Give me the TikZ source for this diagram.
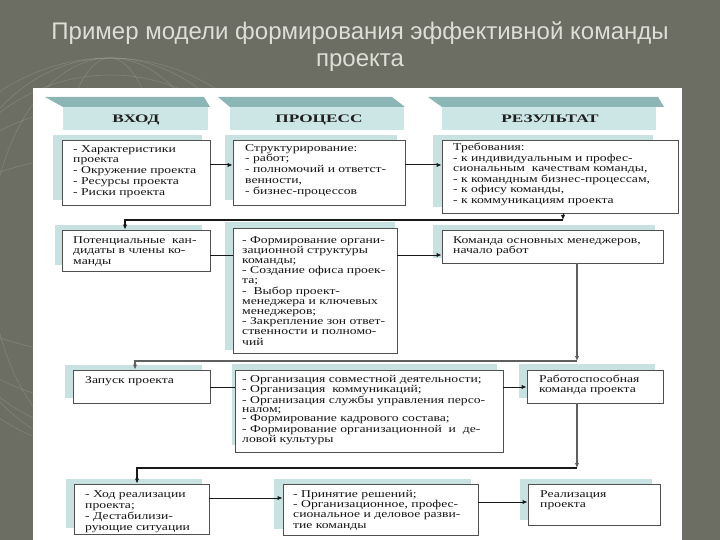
\documentclass[tikz,border=0pt]{standalone}
\usepackage{fontspec}
\setmainfont{Liberation Serif}
\newfontfamily\bodyf[FakeStretch=1.3]{Liberation Serif}
\newfontfamily\headf[FakeStretch=1.5]{Liberation Serif}
\newfontfamily\titlef{Liberation Sans}
\usetikzlibrary{arrows.meta,fit}
\definecolor{bgc}{RGB}{108,110,99}
\definecolor{titc}{RGB}{222,222,214}
\definecolor{topc}{RGB}{140,181,181}
\definecolor{frontc}{RGB}{204,229,229}
\definecolor{shc}{RGB}{200,226,226}
\definecolor{bordc}{RGB}{80,80,80}
\definecolor{lnc}{RGB}{25,25,25}
\definecolor{greyc}{RGB}{95,95,95}
\begin{document}
\begin{tikzpicture}[x=1pt,y=-1pt,
 box/.style={draw=bordc,line width=0.9pt,fill=white,inner sep=0pt},
 txt/.style={anchor=north west,inner sep=0pt,align=left,text=black!92,
   font=\bodyf\fontsize{10.5}{#1}\selectfont},
 txt/.default=10.6,
 hd/.style={font=\headf\bfseries\fontsize{11.5}{12}\selectfont,text=black!88,inner sep=0pt,anchor=base},
 arr/.style={-{Latex[length=5pt,width=4.5pt]}},
 ln/.style={draw=lnc,line width=1pt},
 thickln/.style={draw=lnc,line width=1.8pt},
 greyln/.style={draw=greyc,line width=1.4pt},
 titl/.style={font=\titlef\fontsize{24}{27}\selectfont,text=titc,anchor=base,inner sep=0pt}]
\useasboundingbox (0,0) rectangle (720,540);
\fill[bgc] (0,0) rectangle (720,540);
% faint globe decoration
\begin{scope}[draw=white,opacity=0.13,line width=0.7pt]
 \draw (110,255) circle[radius=197];
 \draw (110,255) circle[radius=180];
 \draw (110,255) ellipse[x radius=60,y radius=197];
 \draw (110,255) ellipse[x radius=120,y radius=197];
 \draw (110,255) ellipse[x radius=165,y radius=197];
 \draw (110,255) ellipse[x radius=197,y radius=150];
 \draw (110,255) ellipse[x radius=197,y radius=100];
\end{scope}
% title
\node[titl] (ttl1) at (360,40) {Пример модели формирования эффективной команды};
\node[titl] (ttl2) at (360,67) {проекта};
% panel
\fill[white] (33,88) rectangle (682,540);
% headers
\fill[topc] (45,97) -- (204,97) -- (210,107) -- (63,107) -- cycle;
\fill[frontc] (63,107) rectangle (208,130);
\node[hd] (h1) at (136,123) {ВХОД};
\fill[topc] (218,97) -- (392,97) -- (405,107) -- (230,107) -- cycle;
\fill[frontc] (230,107) rectangle (404,130);
\node[hd] (h2) at (319,123) {ПРОЦЕСС};
\fill[topc] (428,97) -- (658,97) -- (664,107) -- (442,107) -- cycle;
\fill[frontc] (442,107) rectangle (656,130);
\node[hd] (h3) at (550,123) {РЕЗУЛЬТАТ};
% shadows
\fill[shc] (53,135) rectangle (202,200);
\fill[shc] (225,135) rectangle (397,200);
\fill[shc] (433,135) rectangle (653,207);
\fill[shc] (55,225) rectangle (202,265);
\fill[shc] (225,222) rectangle (395,350);
\fill[shc] (433,225) rectangle (655,258);
\fill[shc] (65,365) rectangle (202,398);
\fill[shc] (232,364) rectangle (497,445);
\fill[shc] (519,364) rectangle (655,398);
\fill[shc] (66,479) rectangle (202,528);
\fill[shc] (274,479) rectangle (471,529);
\fill[shc] (520,479) rectangle (652,520);
% boxes
\node[box,fit={(62,140) (210,205)}] (b1) {};
\node[box,fit={(233,140) (405,205)}] (b2) {};
\node[box,fit={(442,140) (678,213)}] (b3) {};
\node[box,fit={(62,230) (210,271)}] (b4) {};
\node[box,fit={(233,228) (397,353)}] (b5) {};
\node[box,fit={(442,230) (663,263)}] (b6) {};
\node[box,fit={(73,370) (210,403)}] (b7) {};
\node[box,fit={(235,370) (503,452)}] (b8) {};
\node[box,fit={(527,370) (663,403)}] (b9) {};
\node[box,fit={(74,484) (209,534)}] (b10) {};
\node[box,fit={(283,484) (478,535)}] (b11) {};
\node[box,fit={(528,484) (660,525)}] (b12) {};
% texts
\node[txt=10.8] (t1) at (73,145) {- Характеристики\\проекта\\- Окружение проекта\\- Ресурсы проекта\\- Риски проекта};
\node[txt=10.8] (t2) at (245,144) {Структурирование:\\- работ;\\- полномочий и ответст-\\венности,\\- бизнес-процессов};
\node[txt=10.5] (t3) at (453,143) {Требования:\\- к индивидуальным и профес-\\сиональным \ качествам команды,\\- к командным бизнес-процессам,\\- к офису команды,\\- к коммуникациям проекта};
\node[txt=10.5] (t4) at (73,236) {Потенциальные \ кан-\\дидаты в члены ко-\\манды};
\node[txt=10.2] (t5) at (242,236) {- Формирование органи-\\зационной структуры\\команды;\\- Создание офиса проек-\\та;\\- \ Выбор проект-\\менеджера и ключевых\\менеджеров;\\- Закрепление зон ответ-\\ственности и полномо-\\чий};
\node[txt=10.2] (t6) at (453,236) {Команда основных менеджеров,\\начало работ};
\node[txt] (t7) at (85,376) {Запуск проекта};
\node[txt=9] (t8) at (242,375) {- Организация совместной деятельности;\\- Организация \ коммуникаций;\\- Организация службы управления персо-\\налом;\\- Формирование кадрового состава;\\- Формирование организационной \ и \ де-\\ловой культуры};
\node[txt=9.5] (t9) at (539,375) {Работоспособная\\команда проекта};
\node[txt=11] (t10) at (85,490) {- Ход реализации\\проекта;\\- Дестабилизи-\\рующие ситуации};
\node[txt=10.3] (t11) at (293,490) {- Принятие решений;\\- Организационное, профес-\\сиональное и деловое разви-\\тие команды};
\node[txt=10.8] (t12) at (540,490) {Реализация\\проекта};
% connector levels
\coordinate (r1) at (0,165);
\coordinate (r2) at (0,255);
\coordinate (r3) at (0,387);
\coordinate (r4) at (0,498);
\coordinate (r5) at (0,502);
\coordinate (c1) at (563,220);
\coordinate (c2) at (125,220);
\coordinate (c3) at (577,361);
\coordinate (c4) at (135,361);
\coordinate (c5) at (577,468);
\coordinate (c6) at (137,468);
% connectors
\draw[ln,arr] (b1.east |- r1) -- (b2.west |- r1);
\draw[ln,arr] (b2.east |- r1) -- (b3.west |- r1);
\draw[ln,arr] (b3.south -| c1) -- (c1);
\draw[thickln,arr] (c1) -- (c2) -- (b4.north -| c2);
\draw[ln] (b4.east |- r2) -- (b5.west |- r2);
\draw[ln,arr] (b5.east |- r2) -- (b6.west |- r2);
\draw[greyln,arr] (b6.south -| c3) -- (c3);
\draw[greyln,arr] (c3) -- (c4) -- (b7.north -| c4);
\draw[ln] (b7.east |- r3) -- (b8.west |- r3);
\draw[ln,arr] (b8.east |- r3) -- (b9.west |- r3);
\draw[greyln,arr] (b9.south -| c5) -- (c5);
\draw[thickln,arr] (c5) -- (c6) -- (b10.north -| c6);
\draw[ln,arr] (b10.east |- r4) -- (b11.west |- r4);
\draw[ln,arr] (b11.east |- r5) -- (b12.west |- r5);
\end{tikzpicture}
\end{document}
